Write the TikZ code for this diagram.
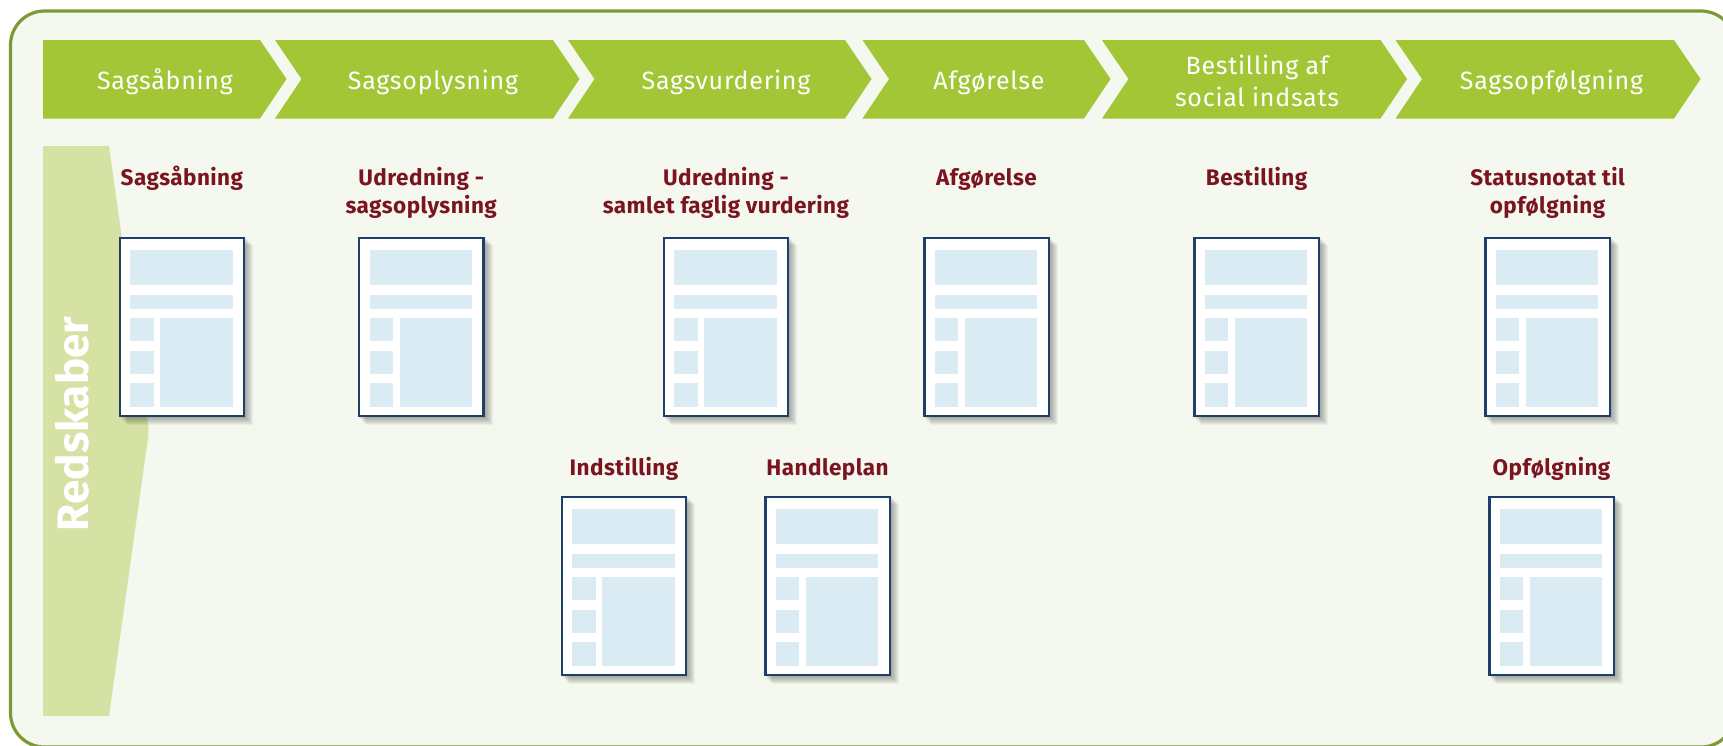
\documentclass[tikz,border=0pt]{standalone}
\usepackage{fontspec}
\setmainfont{Fira Sans}
\newfontfamily\stagefont[LetterSpace=3]{Fira Sans}
\newfontfamily\titlefont[LetterSpace=2]{Fira Sans}
\usetikzlibrary{positioning}

\definecolor{panelbg}{HTML}{F5F8EE}
\definecolor{panelline}{HTML}{7B9A35}
\definecolor{stagegreen}{HTML}{A3C636}
\definecolor{bandgreen}{HTML}{D5E2A4}
\definecolor{labelred}{HTML}{7A1420}
\definecolor{sheetblue}{HTML}{1F3F6B}
\definecolor{blockblue}{HTML}{DBEBF3}

\begin{document}
\begin{tikzpicture}[x=1pt,y=-1pt]
  \tikzstyle{stage}=[fill=stagegreen]
  \tikzstyle{stagetext}=[text=white,align=center,inner sep=0pt,anchor=base,font=\stagefont\fontsize{25}{32}\selectfont]
  \tikzstyle{sheet}=[anchor=north west,fill=white,draw=sheetblue,line width=2.2pt,minimum width=124.4pt,minimum height=178pt,inner sep=0pt]
  \tikzstyle{block}=[fill=blockblue]
  \tikzstyle{sheettext}=[text=labelred,align=center,inner sep=0pt,anchor=base,font=\titlefont\bfseries\fontsize{22.5}{28}\selectfont]

  \useasboundingbox (0,0) rectangle (1723,745);

  % panel and side band
  \draw[fill=panelbg,draw=panelline,line width=3.2pt,rounded corners=34pt] (10.5,11) rectangle (1735,747);
  \fill[bandgreen] (43,146) -- (109,146) [rounded corners=6pt] -- (149,431) [sharp corners] -- (109,716) -- (43,716) -- cycle;
  \node[text=white,rotate=90,inner sep=0pt,font=\bfseries\fontsize{44}{44}\selectfont] (band) at (72,424) {Redskaber};

  % top row
  \fill[stage] (43,40) -- (260,40) -- (286.5,79) -- (260,118.5) -- (43,118.5) -- cycle;
  \node[stagetext] (st1) at (165,89) {Sagsåbning};
  \foreach \name/\xl/\xr/\xt/\yt/\txt in {st2/275/553/433/89/Sagsoplysning,
      st3/568/845/726/89/Sagsvurdering,
      st4/862.5/1084/989/89/Afgørelse,
      st5/1102/1380.5/1257/106/{Bestilling af\\social indsats},
      st6/1395.5/1674/1551.5/89/Sagsopfølgning}
  {
    \fill[stage] (\xl,40) -- (\xr,40) -- (\xr+26.5,79) -- (\xr,118.5) -- (\xl,118.5) -- (\xl+26.5,79) -- cycle;
    \node[stagetext] (\name) at (\xt,\yt) {\txt};
  }

  % sheets with their titles
  \foreach \name/\dx/\dy/\ty/\txt in {doca/118.7/237/185.5/Sagsåbning,
      docb/358/237/213.5/{Udredning -\\sagsoplysning},
      docc/662.7/237/213.5/{Udredning -\\samlet faglig vurdering},
      docd/923.3/237/185.5/Afgørelse,
      doce/1193.4/237/185.5/Bestilling,
      docf/1484.3/237/213.5/{Statusnotat til\\opfølgning},
      docg/560.7/496/475.5/Indstilling,
      doch/764.3/496/475.5/Handleplan,
      doci/1488.3/496/475.5/Opfølgning}
  {
    \foreach \d in {1,...,8}
      \fill[black,opacity=0.045] (\dx+\d,\dy+\d) rectangle ++(126.5,180);
    \node[sheet] (\name) at (\dx,\dy) {};
    \fill[block] ([shift={(11.7,12.7)}]\name.north west) rectangle ++(102.3,35.3);
    \fill[block] ([shift={(11.7,57.7)}]\name.north west) rectangle ++(102.3,14);
    \fill[block] ([shift={(11.7,81)}]\name.north west) rectangle ++(23.3,23.3);
    \fill[block] ([shift={(11.7,113.7)}]\name.north west) rectangle ++(23.3,23.3);
    \fill[block] ([shift={(11.7,146.3)}]\name.north west) rectangle ++(23.3,23.3);
    \fill[block] ([shift={(41.7,81)}]\name.north west) rectangle ++(72.3,88.7);
    \node[sheettext] (\name title) at (\dx+63.2,\ty) {\txt};
  }
\end{tikzpicture}
\end{document}
